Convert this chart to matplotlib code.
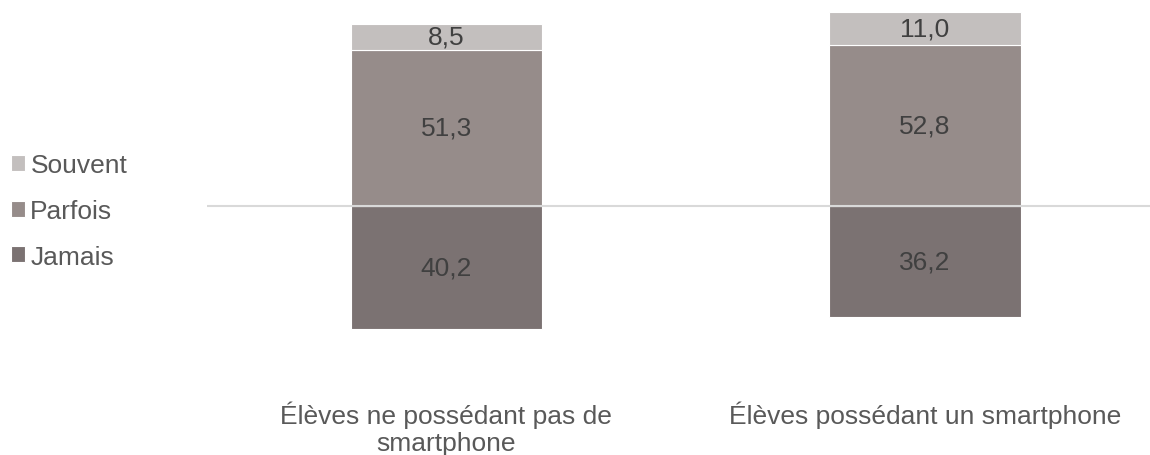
import numpy as np
from matplotlib import pyplot as plt

plt.rcParams['font.family'] = ['Liberation Sans', 'DejaVu Sans']

categories = ["Élèves ne possédant pas de\nsmartphone", "Élèves possédant un smartphone"]
jamais = [40.2, 36.2]
parfois = [51.3, 52.8]
souvent = [8.5, 11.0]

couleurs = {"Souvent": "#C3BFBE", "Parfois": "#968C8A", "Jamais": "#7B7272"}

def virgule(vals):
    return [f"{v:.1f}".replace(".", ",") for v in vals]

fig = plt.figure(figsize=(11.5, 4.56), dpi=100)
ax = fig.add_axes([0.18, 0.254, 0.82, 0.746])

x = np.arange(len(categories))
w = 0.4

b_j = ax.bar(x, -np.array(jamais), w, color=couleurs["Jamais"], edgecolor="white", linewidth=0.8, label="Jamais")
b_p = ax.bar(x, parfois, w, color=couleurs["Parfois"], edgecolor="white", linewidth=0.8, label="Parfois")
b_s = ax.bar(x, souvent, w, bottom=parfois, color=couleurs["Souvent"], edgecolor="white", linewidth=0.8, label="Souvent")

for barres, vals in [(b_j, jamais), (b_p, parfois), (b_s, souvent)]:
    ax.bar_label(barres, labels=virgule(vals), label_type="center", fontsize=19, color="#404040")

ax.axhline(0, color="#D9D9D9", linewidth=1.5, zorder=3)

ax.set_xlim(-0.5, 1.47)
ax.set_ylim(-43.6, 67.9)
ax.set_yticks([])
ax.set_xticks(x)
ax.set_xticklabels(categories, fontsize=19, color="#595959", multialignment="center", linespacing=1.15)
ax.tick_params(axis="x", length=0, pad=44)
for s in ax.spines.values():
    s.set_visible(False)

handles = [b_s, b_p, b_j]
fig.legend(handles, ["Souvent", "Parfois", "Jamais"], loc="center left",
           bbox_to_anchor=(0.0, 0.535), frameon=False, fontsize=19,
           labelcolor="#595959", handlelength=0.55, handleheight=0.55,
           handletextpad=0.2, labelspacing=0.82, borderpad=0.2, borderaxespad=0.2)

fig.savefig("out.png", dpi=100)
